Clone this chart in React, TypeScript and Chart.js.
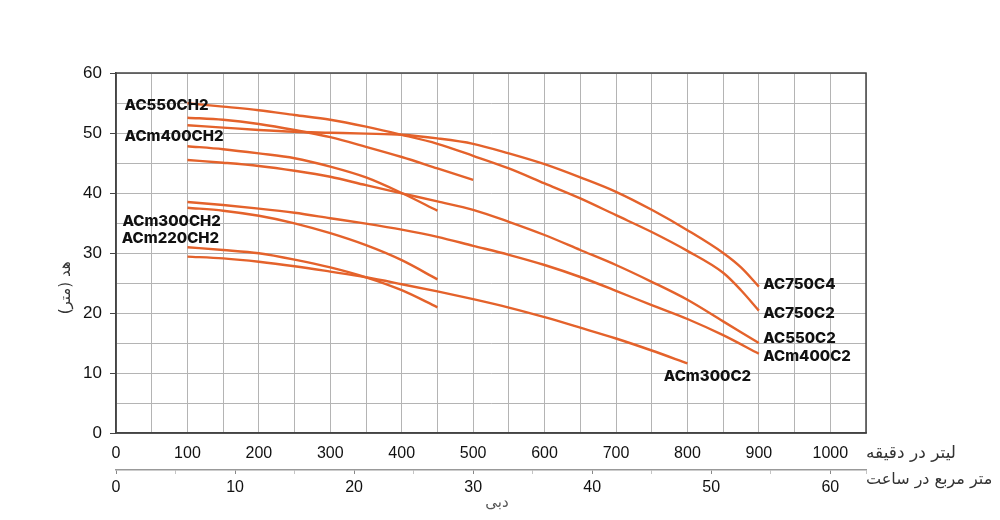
import React, { useEffect, useRef } from "react";
import { Chart, registerables } from "chart.js";

Chart.register(...registerables);

// flow rates in litres per minute
const flow900 = [100, 150, 200, 250, 300, 350, 400, 450, 500, 550, 600, 650, 700, 750, 800, 850, 900];
const flow750 = [100, 150, 200, 250, 300, 350, 400, 450, 500, 550, 600, 650, 700, 750, 800, 850, 875, 900];
const flow800 = [100, 150, 200, 250, 300, 350, 400, 450, 500, 550, 600, 650, 700, 750, 800];
const flow500 = [100, 150, 200, 250, 300, 350, 400, 450, 500];
const flow450 = [100, 150, 200, 250, 300, 350, 400, 450];

// head in metres
const headAC750C4 = [51.3, 50.9, 50.5, 50.2, 50.05, 49.9, 49.7, 49.1, 48.2, 46.6, 44.8, 42.6, 40.2, 37.2, 33.8, 30.0, 27.6, 24.4];
const headAC750C2 = [54.95, 54.4, 53.8, 53.0, 52.2, 51.05, 49.7, 48.2, 46.2, 44.1, 41.6, 39.1, 36.3, 33.5, 30.35, 26.7, 23.8, 20.4];
const headAC550C2 = [45.5, 45.05, 44.5, 43.7, 42.7, 41.3, 39.95, 38.6, 37.2, 35.2, 33.0, 30.5, 28.0, 25.2, 22.2, 18.6, 15.0];
const headACm400C2 = [38.5, 38.0, 37.4, 36.7, 35.8, 34.9, 33.9, 32.7, 31.2, 29.7, 28.0, 26.0, 23.7, 21.3, 19.0, 16.3, 13.2];
const headACm300C2 = [29.4, 29.1, 28.55, 27.8, 26.9, 25.95, 24.8, 23.6, 22.3, 20.9, 19.3, 17.55, 15.75, 13.75, 11.6];
const headAC550CH2 = [52.55, 52.2, 51.5, 50.5, 49.3, 47.7, 46.0, 44.1, 42.2];
const headACm400CH2 = [47.8, 47.3, 46.6, 45.8, 44.4, 42.6, 40.0, 37.05];
const headACm300CH2 = [37.55, 37.05, 36.2, 34.95, 33.3, 31.3, 28.8, 25.6];
const headACm220CH2 = [30.95, 30.5, 29.95, 28.9, 27.6, 25.95, 23.8, 20.95];

// model names written on the chart, anchored in (flow, head) space
const curveLabels = [
  { text: "AC550CH2", flow: 12, head: 54.6 },
  { text: "ACm400CH2", flow: 12, head: 49.4 },
  { text: "ACm300CH2", flow: 9, head: 35.3 },
  { text: "ACm220CH2", flow: 8, head: 32.4 },
  { text: "AC750C4", flow: 906, head: 24.7 },
  { text: "AC750C2", flow: 906, head: 20 },
  { text: "AC550C2", flow: 906, head: 15.8 },
  { text: "ACm400C2", flow: 906, head: 12.7 },
  { text: "ACm300C2", flow: 767, head: 9.5 },
];

const LINE = "#e4622b";
const GRID = "#b4b4b4";
const AXIS = "#444444";
const FA_FONT = '"DejaVu Sans", sans-serif';
const NUM_FONT = '"Liberation Sans", Arial, sans-serif';

const toPoints = (flows: number[], heads: number[]) =>
  heads.map((h, i) => ({ x: flows[i], y: h }));

const overlay = {
  id: "overlay",
  beforeDatasetsDraw(chart: any) {
    const { ctx, chartArea } = chart;
    ctx.save();
    ctx.strokeStyle = AXIS;
    ctx.lineWidth = 1.5;
    ctx.strokeRect(chartArea.left, chartArea.top, chartArea.right - chartArea.left, chartArea.bottom - chartArea.top);
    ctx.restore();
  },
  afterDatasetsDraw(chart: any) {
    const { ctx, chartArea } = chart;
    const xs = chart.scales.x;
    const ys = chart.scales.y;
    ctx.save();
    ctx.fillStyle = "#111";
    ctx.font = '800 15px Inter, "Open Sans", sans-serif';
    ctx.textAlign = "left";
    ctx.textBaseline = "middle";
    curveLabels.forEach((l) => {
      ctx.fillText(l.text, xs.getPixelForValue(l.flow), ys.getPixelForValue(l.head));
    });

    ctx.direction = "rtl";
    ctx.fillStyle = "#333";
    ctx.textAlign = "left";
    ctx.font = `17px ${FA_FONT}`;
    ctx.fillText("لیتر در دقیقه", chartArea.right, chartArea.bottom + 21);
    ctx.font = `16px ${FA_FONT}`;
    ctx.fillText("متر مربع در ساعت", chartArea.right, chartArea.bottom + 47);

    ctx.fillStyle = "#555";
    ctx.font = `15px ${FA_FONT}`;
    ctx.textAlign = "center";
    ctx.fillText("دبی", 497, chartArea.bottom + 70);

    ctx.fillStyle = "#333";
    ctx.font = `15px ${FA_FONT}`;
    ctx.translate(chartArea.left - 50, ys.getPixelForValue(24.2));
    ctx.rotate(-Math.PI / 2);
    ctx.fillText("هد (متر)", 0, 0);
    ctx.restore();
  },
};

const PumpCurves: React.FC = () => {
  const chartRef = useRef<HTMLCanvasElement | null>(null);

  useEffect(() => {
    const canvas = chartRef.current;
    if (!canvas) return;

    const series = [
      { label: "AC750C4", data: toPoints(flow750, headAC750C4) },
      { label: "AC750C2", data: toPoints(flow750, headAC750C2) },
      { label: "AC550C2", data: toPoints(flow900, headAC550C2) },
      { label: "ACm400C2", data: toPoints(flow900, headACm400C2) },
      { label: "ACm300C2", data: toPoints(flow800, headACm300C2) },
      { label: "AC550CH2", data: toPoints(flow500, headAC550CH2) },
      { label: "ACm400CH2", data: toPoints(flow450, headACm400CH2) },
      { label: "ACm300CH2", data: toPoints(flow450, headACm300CH2) },
      { label: "ACm220CH2", data: toPoints(flow450, headACm220CH2) },
    ];

    const chart = new Chart(canvas, {
      type: "line",
      data: {
        datasets: series.map((s) => ({
          ...s,
          borderColor: LINE,
          borderWidth: 2.4,
          pointRadius: 0,
          fill: false,
          cubicInterpolationMode: "monotone" as const,
        })),
      },
      options: {
        animation: false,
        responsive: true,
        maintainAspectRatio: false,
        layout: { padding: { left: 0, top: 73, right: 134, bottom: 0 } },
        plugins: { legend: { display: false }, tooltip: { enabled: false } },
        scales: {
          x: {
            type: "linear",
            min: 0,
            max: 1050,
            weight: 0,
            afterFit: (s: any) => {
              s.height = 37;
            },
            border: { color: AXIS, width: 1.5 },
            grid: { color: GRID, lineWidth: 1, drawTicks: false },
            ticks: {
              stepSize: 50,
              padding: 11,
              color: "#111",
              font: { family: NUM_FONT, size: 16 },
              maxRotation: 0,
              autoSkip: false,
              callback: (v: any) => (v % 100 === 0 && v <= 1000 ? String(v) : ""),
            },
          },
          x2: {
            type: "linear",
            position: "bottom",
            min: 0,
            max: 63,
            weight: 1,
            afterFit: (s: any) => {
              s.height = 50;
            },
            border: { color: "#999", width: 1.5 },
            grid: {
              drawOnChartArea: false,
              tickLength: 4,
              tickColor: (c: any) => (c.tick && c.tick.value % 10 === 0 ? "#888" : "#c4c4c4"),
            },
            ticks: {
              stepSize: 5,
              padding: 4,
              color: "#111",
              font: { family: NUM_FONT, size: 16 },
              maxRotation: 0,
              autoSkip: false,
              callback: (v: any) => (v % 10 === 0 && v <= 60 ? String(v) : ""),
            },
          },
          y: {
            type: "linear",
            min: 0,
            max: 60,
            afterFit: (s: any) => {
              s.width = 116;
            },
            border: { color: AXIS, width: 1.5 },
            grid: {
              color: GRID,
              lineWidth: 1,
              tickLength: 6,
              tickColor: (c: any) => (c.tick && c.tick.value % 10 === 0 ? AXIS : "rgba(0,0,0,0)"),
            },
            ticks: {
              stepSize: 5,
              padding: 8,
              color: "#111",
              font: { family: NUM_FONT, size: 17 },
              autoSkip: false,
              callback: (v: any) => (v % 10 === 0 ? String(v) : ""),
            },
          },
        },
      },
      plugins: [overlay],
    });

    return () => {
      chart.destroy();
    };
  }, []);

  return (
    <div style={{ position: "absolute", left: 0, top: 0, width: 1000, height: 520, background: "#fff" }}>
      <canvas ref={chartRef} />
    </div>
  );
};

export default function App() {
  return <PumpCurves />;
}
